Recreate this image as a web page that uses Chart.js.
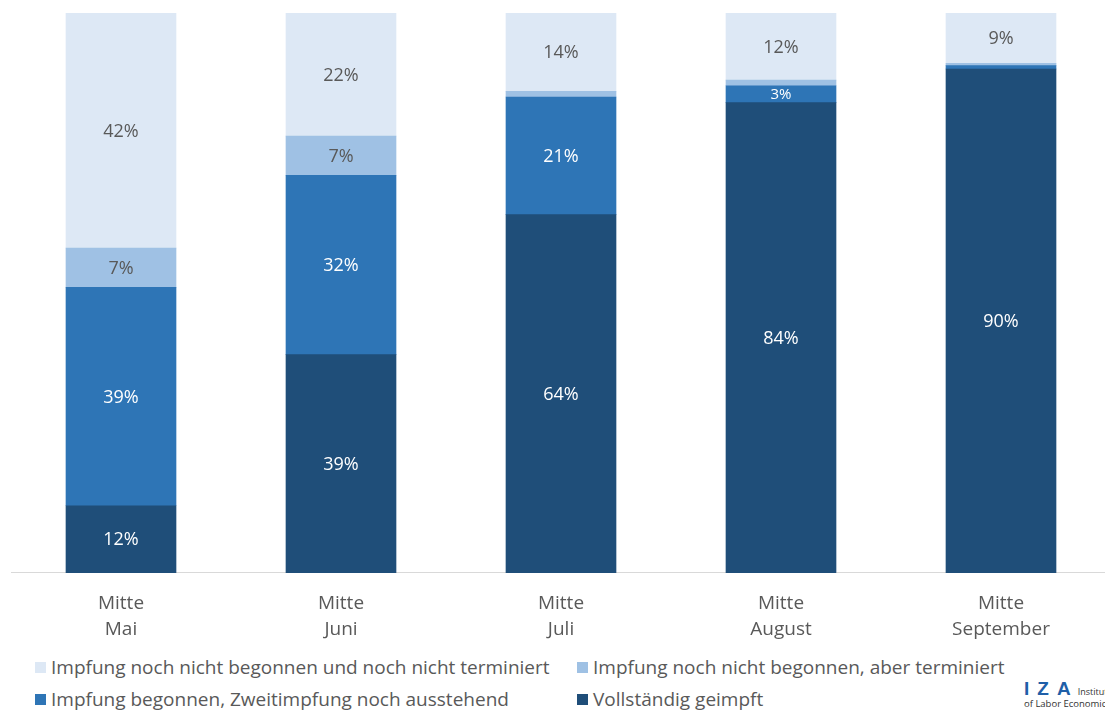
<!DOCTYPE html>
<html lang="de">
<head>
<meta charset="utf-8">
<title>Impfstatus</title>
<script src="https://cdn.jsdelivr.net/npm/chart.js@4/dist/chart.umd.min.js"></script>
<style>
  html, body { margin: 0; padding: 0; background: #fff; overflow: hidden; }
  body { width: 1105px; height: 713px; position: relative; font-family: "Open Sans", sans-serif; }
  #wrap { position: absolute; left: 0; top: 0; width: 1120px; height: 653px; }
  .leg { position: absolute; font-size: 19px; color: #595959; white-space: nowrap; line-height: 20px; }
  .leg i { display: inline-block; width: 11px; height: 11px; margin-right: 5px; vertical-align: 1px; }
  #iza { position: absolute; left: 1024px; top: 678px; white-space: nowrap; }
  #iza b { color: #1f5fa8; font-size: 19px; letter-spacing: 8px; font-family: "Liberation Sans", sans-serif; }
  #iza span { color: #333; font-size: 9px; margin-left: -5px; }
  #iza div { color: #333; font-size: 9.5px; margin-top: -3px; }
</style>
</head>
<body>
<div id="wrap"><canvas id="chart"></canvas></div>

<div class="leg" style="left:35px; top:657px"><i style="background:#dde8f5"></i>Impfung noch nicht begonnen und noch nicht terminiert</div>
<div class="leg" style="left:577px; top:657px"><i style="background:#9fc1e4"></i>Impfung noch nicht begonnen, aber terminiert</div>
<div class="leg" style="left:35px; top:689px"><i style="background:#2e75b6"></i>Impfung begonnen, Zweitimpfung noch ausstehend</div>
<div class="leg" style="left:577px; top:689px"><i style="background:#1f4e79"></i>Vollständig geimpft</div>

<div id="iza"><b>IZA</b> <span>Institute</span><div>of Labor Economics</div></div>

<script>
const months = [['Mitte', 'Mai'], ['Mitte', 'Juni'], ['Mitte', 'Juli'], ['Mitte', 'August'], ['Mitte', 'September']];

// Anteile in Prozent, von unten nach oben gestapelt
const vollstaendig = [12, 39, 64, 84, 90];
const begonnen = [39, 32, 21, 3, 0.6];
const terminiert = [7, 7, 1, 1, 0.4];
const nichtTerminiert = [42, 22, 14, 12, 9];

// Prozentwerte mittig in die Segmente schreiben
const segmentLabels = {
  id: 'segmentLabels',
  afterDatasetsDraw(chart) {
    const ctx = chart.ctx;
    ctx.save();
    ctx.textAlign = 'center';
    ctx.textBaseline = 'middle';
    chart.data.datasets.forEach((ds, i) => {
      const meta = chart.getDatasetMeta(i);
      meta.data.forEach((bar, j) => {
        const v = ds.data[j];
        if (v < 3) return;
        const size = v < 5 ? 15 : 18;
        ctx.font = size + 'px "Open Sans", sans-serif';
        ctx.fillStyle = ds.labelColor;
        ctx.fillText(Math.round(v) + '%', bar.x, (bar.y + bar.base) / 2 + 1);
      });
    });
    ctx.restore();
  }
};

const ctx = document.getElementById('chart').getContext('2d');
new Chart(ctx, {
  type: 'bar',
  data: {
    labels: months,
    datasets: [
      { label: 'Vollständig geimpft', data: vollstaendig, backgroundColor: '#1f4e79', labelColor: '#ffffff' },
      { label: 'Impfung begonnen, Zweitimpfung noch ausstehend', data: begonnen, backgroundColor: '#2e75b6', labelColor: '#ffffff' },
      { label: 'Impfung noch nicht begonnen, aber terminiert', data: terminiert, backgroundColor: '#9fc1e4', labelColor: '#595959' },
      { label: 'Impfung noch nicht begonnen und noch nicht terminiert', data: nichtTerminiert, backgroundColor: '#dde8f5', labelColor: '#595959' }
    ]
  },
  options: {
    responsive: true,
    maintainAspectRatio: false,
    animation: false,
    layout: { padding: { left: 11, top: 13, right: 9, bottom: 0 } },
    datasets: { bar: { barThickness: 110, borderWidth: 0 } },
    scales: {
      x: {
        stacked: true,
        grid: { display: false },
        border: { color: '#d9d9d9', width: 1 },
        ticks: {
          color: '#595959',
          padding: 10,
          font: { family: 'Open Sans', size: 19, lineHeight: 1.37 }
        }
      },
      y: {
        stacked: true,
        display: false,
        min: 0,
        max: 100
      }
    },
    plugins: {
      legend: { display: false },
      tooltip: { enabled: false }
    }
  },
  plugins: [segmentLabels]
});
</script>
</body>
</html>
